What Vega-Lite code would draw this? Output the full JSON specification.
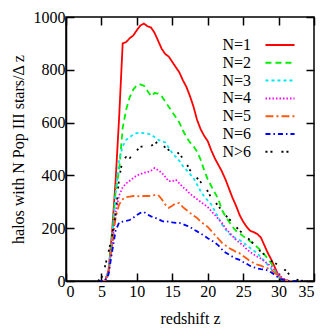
{
  "$schema": "https://vega.github.io/schema/vega-lite/v6.json",
  "width": 248,
  "height": 264,
  "autosize": {"type": "none"},
  "padding": {"left": 66, "top": 17, "right": 17, "bottom": 50},
  "background": "white",
  "config": {
    "font": "Liberation Serif",
    "view": {"stroke": "black", "strokeWidth": 1.5},
    "axis": {
      "grid": false,
      "domainColor": "black",
      "domainWidth": 1.5,
      "tickColor": "black",
      "tickWidth": 1.5,
      "tickSize": -8,
      "labelColor": "black",
      "labelFontSize": 16,
      "titleColor": "black",
      "titleFontSize": 16,
      "titleFontWeight": "normal"
    }
  },
  "data": {
    "values": [
      {"z": 4.5, "N=1": 0, "N=2": 0, "N=3": 0, "N=4": 0, "N=5": 0, "N=6": 0, "N>6": 0},
      {"z": 5.0, "N=1": 0, "N=2": 0, "N=3": 0, "N=4": 0, "N=5": 0, "N=6": 0, "N>6": 10},
      {"z": 5.5, "N=1": 0, "N=2": 0, "N=3": 0, "N=4": 0, "N=5": 0, "N=6": 0, "N>6": 55},
      {"z": 6.0, "N=1": 40, "N=2": 35, "N=3": 35, "N=4": 30, "N=5": 30, "N=6": 25, "N>6": 110},
      {"z": 6.5, "N=1": 185, "N=2": 165, "N=3": 160, "N=4": 140, "N=5": 130, "N=6": 110, "N>6": 170},
      {"z": 7.0, "N=1": 380, "N=2": 340, "N=3": 330, "N=4": 260, "N=5": 240, "N=6": 190, "N>6": 250},
      {"z": 7.5, "N=1": 620, "N=2": 420, "N=3": 460, "N=4": 325, "N=5": 290, "N=6": 222, "N>6": 390},
      {"z": 8.0, "N=1": 900, "N=2": 580, "N=3": 510, "N=4": 355, "N=5": 310, "N=6": 225, "N>6": 460},
      {"z": 8.5, "N=1": 905, "N=2": 650, "N=3": 535, "N=4": 370, "N=5": 318, "N=6": 228, "N>6": 470},
      {"z": 9.0, "N=1": 920, "N=2": 697, "N=3": 545, "N=4": 380, "N=5": 320, "N=6": 231, "N>6": 466},
      {"z": 9.5, "N=1": 930, "N=2": 725, "N=3": 555, "N=4": 390, "N=5": 322, "N=6": 240, "N>6": 480},
      {"z": 10.0, "N=1": 950, "N=2": 742, "N=3": 560, "N=4": 400, "N=5": 322, "N=6": 250, "N>6": 495},
      {"z": 10.5, "N=1": 968, "N=2": 745, "N=3": 562, "N=4": 405, "N=5": 320, "N=6": 258, "N>6": 508},
      {"z": 11.0, "N=1": 975, "N=2": 740, "N=3": 560, "N=4": 410, "N=5": 322, "N=6": 261, "N>6": 512},
      {"z": 11.5, "N=1": 965, "N=2": 720, "N=3": 558, "N=4": 412, "N=5": 322, "N=6": 252, "N>6": 515},
      {"z": 12.0, "N=1": 960, "N=2": 700, "N=3": 555, "N=4": 418, "N=5": 323, "N=6": 245, "N>6": 512},
      {"z": 12.5, "N=1": 940, "N=2": 712, "N=3": 545, "N=4": 428, "N=5": 325, "N=6": 240, "N>6": 520},
      {"z": 13.0, "N=1": 910, "N=2": 710, "N=3": 535, "N=4": 420, "N=5": 326, "N=6": 235, "N>6": 528},
      {"z": 13.5, "N=1": 880, "N=2": 700, "N=3": 530, "N=4": 410, "N=5": 310, "N=6": 228, "N>6": 525},
      {"z": 14.0, "N=1": 860, "N=2": 680, "N=3": 525, "N=4": 395, "N=5": 290, "N=6": 224, "N>6": 505},
      {"z": 14.5, "N=1": 850, "N=2": 660, "N=3": 505, "N=4": 378, "N=5": 277, "N=6": 226, "N>6": 496},
      {"z": 15.0, "N=1": 830, "N=2": 640, "N=3": 485, "N=4": 378, "N=5": 285, "N=6": 222, "N>6": 498},
      {"z": 15.5, "N=1": 810, "N=2": 620, "N=3": 470, "N=4": 383, "N=5": 295, "N=6": 220, "N>6": 494},
      {"z": 16.0, "N=1": 790, "N=2": 600, "N=3": 455, "N=4": 370, "N=5": 295, "N=6": 220, "N>6": 480},
      {"z": 16.5, "N=1": 760, "N=2": 570, "N=3": 435, "N=4": 355, "N=5": 280, "N=6": 215, "N>6": 465},
      {"z": 17.0, "N=1": 735, "N=2": 545, "N=3": 420, "N=4": 345, "N=5": 269, "N=6": 210, "N>6": 445},
      {"z": 17.5, "N=1": 700, "N=2": 525, "N=3": 405, "N=4": 330, "N=5": 258, "N=6": 205, "N>6": 420},
      {"z": 18.0, "N=1": 660, "N=2": 510, "N=3": 390, "N=4": 320, "N=5": 248, "N=6": 195, "N>6": 405},
      {"z": 18.5, "N=1": 610, "N=2": 490, "N=3": 365, "N=4": 310, "N=5": 239, "N=6": 188, "N>6": 390},
      {"z": 19.0, "N=1": 575, "N=2": 460, "N=3": 340, "N=4": 300, "N=5": 225, "N=6": 180, "N>6": 375},
      {"z": 19.5, "N=1": 550, "N=2": 420, "N=3": 320, "N=4": 290, "N=5": 215, "N=6": 172, "N>6": 360},
      {"z": 20.0, "N=1": 530, "N=2": 385, "N=3": 305, "N=4": 280, "N=5": 205, "N=6": 162, "N>6": 340},
      {"z": 20.5, "N=1": 495, "N=2": 360, "N=3": 290, "N=4": 265, "N=5": 190, "N=6": 155, "N>6": 315},
      {"z": 21.0, "N=1": 465, "N=2": 335, "N=3": 265, "N=4": 250, "N=5": 175, "N=6": 145, "N>6": 300},
      {"z": 21.5, "N=1": 440, "N=2": 310, "N=3": 240, "N=4": 235, "N=5": 160, "N=6": 135, "N>6": 285},
      {"z": 22.0, "N=1": 415, "N=2": 270, "N=3": 215, "N=4": 220, "N=5": 145, "N=6": 120, "N>6": 265},
      {"z": 22.5, "N=1": 385, "N=2": 245, "N=3": 195, "N=4": 200, "N=5": 135, "N=6": 108, "N>6": 250},
      {"z": 23.0, "N=1": 350, "N=2": 225, "N=3": 180, "N=4": 185, "N=5": 125, "N=6": 100, "N>6": 235},
      {"z": 23.5, "N=1": 315, "N=2": 205, "N=3": 170, "N=4": 170, "N=5": 118, "N=6": 92, "N>6": 222},
      {"z": 24.0, "N=1": 285, "N=2": 190, "N=3": 160, "N=4": 155, "N=5": 110, "N=6": 85, "N>6": 205},
      {"z": 24.5, "N=1": 250, "N=2": 180, "N=3": 155, "N=4": 145, "N=5": 105, "N=6": 80, "N>6": 190},
      {"z": 25.0, "N=1": 225, "N=2": 170, "N=3": 145, "N=4": 135, "N=5": 95, "N=6": 72, "N>6": 180},
      {"z": 25.5, "N=1": 205, "N=2": 160, "N=3": 135, "N=4": 120, "N=5": 85, "N=6": 65, "N>6": 165},
      {"z": 26.0, "N=1": 190, "N=2": 150, "N=3": 125, "N=4": 110, "N=5": 75, "N=6": 57, "N>6": 155},
      {"z": 26.5, "N=1": 185, "N=2": 140, "N=3": 115, "N=4": 100, "N=5": 68, "N=6": 52, "N>6": 140},
      {"z": 27.0, "N=1": 178, "N=2": 128, "N=3": 105, "N=4": 92, "N=5": 62, "N=6": 48, "N>6": 125},
      {"z": 27.5, "N=1": 165, "N=2": 115, "N=3": 90, "N=4": 85, "N=5": 58, "N=6": 45, "N>6": 110},
      {"z": 28.0, "N=1": 135, "N=2": 100, "N=3": 75, "N=4": 75, "N=5": 52, "N=6": 43, "N>6": 100},
      {"z": 28.5, "N=1": 105, "N=2": 85, "N=3": 60, "N=4": 65, "N=5": 48, "N=6": 40, "N>6": 85},
      {"z": 29.0, "N=1": 80, "N=2": 65, "N=3": 45, "N=4": 55, "N=5": 42, "N=6": 32, "N>6": 75},
      {"z": 29.5, "N=1": 50, "N=2": 40, "N=3": 35, "N=4": 40, "N=5": 30, "N=6": 22, "N>6": 68},
      {"z": 30.0, "N=1": 20, "N=2": 15, "N=3": 20, "N=4": 25, "N=5": 18, "N=6": 12, "N>6": 60},
      {"z": 30.5, "N=1": 8, "N=2": 5, "N=3": 10, "N=4": 12, "N=5": 8, "N=6": 5, "N>6": 50},
      {"z": 31.0, "N=1": 2, "N=2": 2, "N=3": 4, "N=4": 4, "N=5": 3, "N=6": 2, "N>6": 40},
      {"z": 31.5, "N=1": 0, "N=2": 0, "N=3": 0, "N=4": 0, "N=5": 0, "N=6": 0, "N>6": 25},
      {"z": 32.0, "N=1": 0, "N=2": 0, "N=3": 0, "N=4": 0, "N=5": 0, "N=6": 0, "N>6": 15},
      {"z": 32.5, "N=1": 0, "N=2": 0, "N=3": 0, "N=4": 0, "N=5": 0, "N=6": 0, "N>6": 6},
      {"z": 33.0, "N=1": 0, "N=2": 0, "N=3": 0, "N=4": 0, "N=5": 0, "N=6": 0, "N>6": 2},
      {"z": 33.5, "N=1": 0, "N=2": 0, "N=3": 0, "N=4": 0, "N=5": 0, "N=6": 0, "N>6": 0}
    ]
  },
  "transform": [
    {"fold": ["N=1", "N=2", "N=3", "N=4", "N=5", "N=6", "N>6"], "as": ["N", "v"]}
  ],
  "layer": [
    {
      "mark": {"type": "line", "strokeWidth": 1.8, "clip": true},
      "encoding": {
        "x": {
          "field": "z", "type": "quantitative",
          "scale": {"domain": [0, 35], "nice": false},
          "axis": {"values": [0, 5, 10, 15, 20, 25, 30, 35], "title": "redshift z", "labelPadding": 10, "titlePadding": 11}
        },
        "y": {
          "field": "v", "type": "quantitative",
          "scale": {"domain": [0, 1000], "nice": false},
          "axis": {"values": [0, 200, 400, 600, 800, 1000], "format": "d", "title": "halos with N Pop III stars/Δ z", "labelPadding": 9, "titlePadding": 7}
        },
        "color": {
          "field": "N", "type": "nominal",
          "scale": {
            "domain": ["N=1", "N=2", "N=3", "N=4", "N=5", "N=6", "N>6"],
            "range": ["#ff0000", "#00ee00", "#00e8f0", "#ff00ff", "#ff5a10", "#0000ff", "#000000"]
          },
          "legend": {
            "title": null,
            "orient": "none",
            "legendX": 206,
            "legendY": 20,
            "padding": 0,
            "symbolType": "M-3,0H3",
            "symbolSize": 94,
            "symbolStrokeWidth": 2,
            "symbolFillColor": "transparent",
            "labelFontSize": 16,
            "labelColor": "black",
            "labelAlign": "right",
            "labelOffset": -37,
            "rowPadding": 1.8
          }
        },
        "strokeDash": {
          "field": "N", "type": "nominal",
          "scale": {
            "domain": ["N=1", "N=2", "N=3", "N=4", "N=5", "N=6", "N>6"],
            "range": [[1, 0], [6, 4], [3, 3], [1.5, 2], [8, 3, 2, 3], [5, 3, 1.5, 3], [2, 3, 2, 9]]
          },
          "legend": {
            "title": null,
            "orient": "none",
            "legendX": 206,
            "legendY": 20,
            "padding": 0,
            "symbolType": "M-3,0H3",
            "symbolSize": 94,
            "symbolStrokeWidth": 2,
            "symbolFillColor": "transparent",
            "labelFontSize": 16,
            "labelColor": "black",
            "labelAlign": "right",
            "labelOffset": -37,
            "rowPadding": 1.8
          }
        }
      }
    },
    {
      "mark": {"type": "line", "opacity": 0},
      "encoding": {
        "x": {
          "field": "z", "type": "quantitative",
          "axis": {"orient": "top", "values": [0, 5, 10, 15, 20, 25, 30, 35], "labels": false, "title": null, "domain": false}
        },
        "y": {
          "field": "v", "type": "quantitative",
          "axis": {"orient": "right", "values": [0, 200, 400, 600, 800, 1000], "labels": false, "title": null, "domain": false}
        }
      }
    }
  ],
  "resolve": {"axis": {"x": "independent", "y": "independent"}}
}
